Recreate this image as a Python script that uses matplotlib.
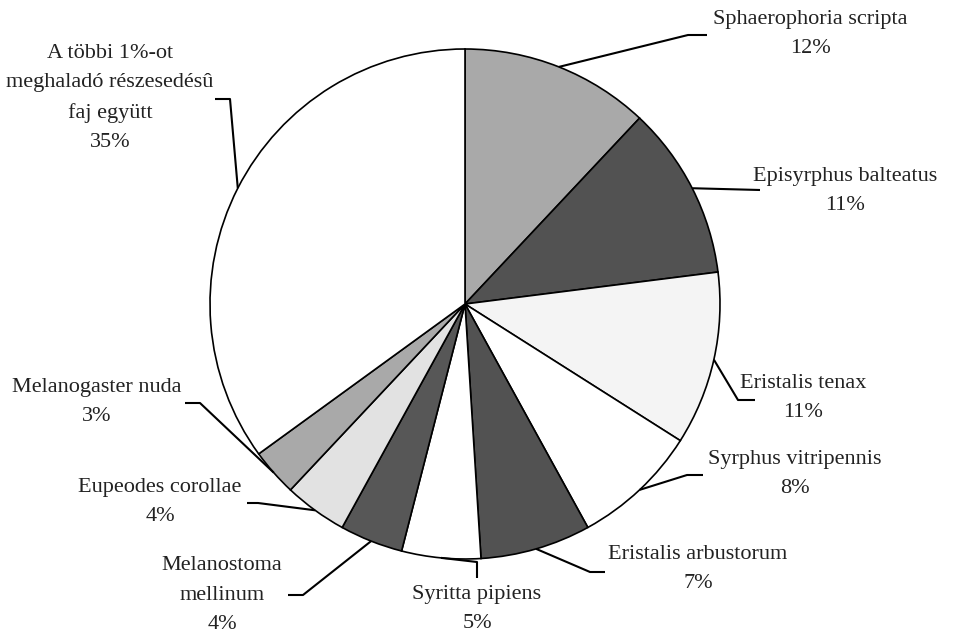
import numpy as np
import matplotlib.pyplot as plt

# species share data
species = [
    "Sphaerophoria scripta",
    "Episyrphus balteatus",
    "Eristalis tenax",
    "Syrphus vitripennis",
    "Eristalis arbustorum",
    "Syritta pipiens",
    "Melanostoma\nmellinum",
    "Eupeodes corollae",
    "Melanogaster nuda",
    "A többi 1%-ot\nmeghaladó részesedésû\nfaj együtt",
]
shares = [12, 11, 11, 8, 7, 5, 4, 4, 3, 35]
fills = ["#a9a9a9", "#525252", "#f4f4f4", "#ffffff", "#525252",
         "#ffffff", "#575757", "#e2e2e2", "#a9a9a9", "#ffffff"]

# label layout in pixel coords (y measured from the top)
label_pos = [(810, 34), (845, 191), (803, 398), (795, 474), (698, 569),
             (477, 609), (222, 595), (160, 502), (97, 402), (110, 98)]
leader_pts = [
    [(688, 35), (707, 35)],
    [(760, 190)],
    [(738, 400), (755, 400)],
    [(687, 475), (703, 475)],
    [(590, 572), (605, 572)],
    [(477, 562), (477, 578)],
    [(303, 595), (288, 595)],
    [(258, 503), (247, 503)],
    [(200, 403), (185, 403)],
    [(230, 99), (215, 99)],
]

W, H = 955, 634
plt.rcParams['font.family'] = ['Liberation Serif', 'DejaVu Serif']

fig = plt.figure(figsize=(W / 100, H / 100), dpi=100)
ax = fig.add_axes([0, 0, 1, 1])

cx, cy, r = 465, H - 304, 255
wedges, _ = ax.pie(shares, colors=fills, startangle=90, counterclock=False,
                   center=(cx, cy), radius=r,
                   wedgeprops=dict(edgecolor='black', linewidth=1.2))
ax.set_xlim(0, W)
ax.set_ylim(0, H)
ax.set_aspect('equal')
ax.axis('off')

for w, name, val, (lx, ly), pts in zip(wedges, species, shares, label_pos, leader_pts):
    mid = np.deg2rad((w.theta1 + w.theta2) / 2)
    xs = [cx + r * np.cos(mid)] + [p[0] for p in pts]
    ys = [cy + r * np.sin(mid)] + [H - p[1] for p in pts]
    ax.plot(xs, ys, color='black', lw=1.5, solid_capstyle='butt')
    ax.text(lx, H - ly, "{}\n{}%".format(name, val), ha='center', va='center',
            multialignment='center', fontsize=16, linespacing=1.72, color='#222222')

fig.savefig("out.png", dpi=100)
